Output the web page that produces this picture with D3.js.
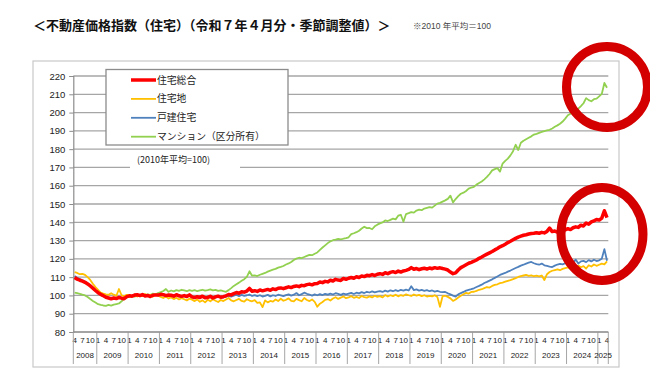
<!DOCTYPE html>
<html lang="ja">
<head>
<meta charset="utf-8">
<script src="https://cdn.jsdelivr.net/npm/d3@7/dist/d3.min.js"></script>
<style>
    body { margin: 0; background: #fff; }
    svg text { font-family: "Liberation Sans", "Noto Sans CJK JP", sans-serif; }
</style>
</head>
<body>
<svg id="chart" width="650" height="380"></svg>
<script>
// category groups (2008 starts in April, 2025 ends in April)
var years = ["2008", "2009", "2010", "2011", "2012", "2013", "2014", "2015", "2016",
    "2017", "2018", "2019", "2020", "2021", "2022", "2023", "2024", "2025"];

// 住宅総合
var sogo = [
    [109.8, 108.9, 108.3, 107.8, 107.2, 106.3, 105.2, 104.0, 102.7],
    [101.5, 100.6, 99.9, 99.0, 98.6, 98.2, 98.6, 98.3, 98.9, 98.5, 98.2, 99.3],
    [99.8, 99.6, 100.2, 100.4, 99.9, 100.5, 99.7, 100.0, 99.4, 100.1, 100.3, 100.2],
    [100.6, 100.4, 99.9, 100.2, 100.1, 99.6, 100.4, 99.8, 99.5, 99.9, 99.4, 100.3],
    [99.2, 98.8, 99.3, 98.9, 99.6, 98.7, 98.9, 99.5, 98.6, 99.2, 99.6, 99.0],
    [99.3, 99.8, 100.5, 100.3, 101.0, 101.6, 101.2, 102.0, 101.8, 102.4, 103.8, 102.3],
    [102.6, 102.2, 103.0, 102.5, 102.9, 103.3, 102.8, 103.6, 103.2, 103.9, 104.1, 103.7],
    [104.2, 104.7, 104.3, 104.9, 105.2, 104.8, 105.5, 105.3, 105.9, 106.2, 105.8, 106.4],
    [106.5, 107.3, 107.0, 107.7, 107.4, 108.3, 107.9, 108.8, 108.4, 108.2, 109.3, 108.8],
    [109.4, 109.8, 109.4, 110.2, 109.8, 110.6, 110.3, 111.0, 110.8, 111.4, 110.9, 111.6],
    [111.9, 111.5, 112.4, 111.9, 112.6, 113.0, 112.5, 113.3, 112.8, 113.4, 113.7, 114.2],
    [115.2, 114.3, 114.7, 114.1, 114.6, 114.9, 114.4, 115.0, 114.6, 115.2, 114.8, 115.1],
    [114.7, 114.4, 113.9, 112.8, 111.9, 112.3, 113.9, 115.2, 116.0, 116.8, 117.6, 118.1],
    [118.7, 119.4, 120.3, 121.0, 121.8, 122.6, 123.3, 124.0, 124.9, 125.7, 126.6, 127.2],
    [128.0, 128.9, 129.6, 130.4, 131.2, 131.9, 132.4, 132.9, 133.2, 133.6, 133.9, 134.0],
    [134.3, 134.0, 134.5, 134.2, 135.0, 136.8, 134.9, 135.2, 134.6, 135.1, 135.6, 135.9],
    [136.5, 136.0, 137.0, 137.5, 137.2, 138.4, 138.0, 139.6, 139.0, 140.2, 140.8, 141.5],
    [141.2, 142.3, 146.3, 142.6]
];

// 住宅地
var takuchi = [
    [112.7, 112.3, 111.6, 111.8, 111.2, 110.0, 108.5, 106.4, 104.6],
    [103.1, 101.6, 101.0, 100.6, 100.3, 101.2, 100.4, 99.8, 103.5, 100.1, 99.5, 100.3],
    [100.2, 99.7, 100.5, 99.4, 100.3, 99.6, 100.8, 99.8, 100.4, 99.3, 100.6, 99.9],
    [99.2, 98.6, 99.4, 98.3, 98.9, 98.0, 98.7, 97.8, 98.5, 97.9, 97.3, 98.2],
    [97.7, 96.9, 97.8, 96.5, 97.3, 96.2, 97.6, 96.8, 97.9, 97.1, 96.4, 97.5],
    [96.9, 97.8, 98.6, 97.3, 96.8, 97.5, 98.1, 97.0, 96.6, 97.9, 97.2, 96.8],
    [97.4, 95.9, 96.2, 93.6, 97.3, 96.2, 97.0, 96.6, 97.8, 96.9, 98.2, 97.1],
    [97.6, 98.4, 97.0, 96.7, 98.1, 97.4, 96.8, 98.6, 97.5, 96.9, 97.8, 96.5],
    [93.8, 95.5, 96.4, 97.6, 98.0, 97.2, 98.3, 99.0, 98.1, 98.8, 99.4, 98.5],
    [98.9, 99.6, 98.7, 99.2, 98.6, 99.7, 99.1, 98.8, 99.5, 98.9, 99.8, 99.2],
    [99.6, 98.9, 100.2, 99.4, 100.1, 99.6, 100.4, 99.5, 100.2, 99.8, 100.6, 100.1],
    [99.7, 100.5, 99.9, 100.3, 99.6, 100.1, 99.4, 99.8, 99.5, 100.1, 99.2, 93.8],
    [99.6, 99.8, 99.2, 98.4, 97.0, 97.8, 98.9, 99.8, 100.6, 101.4, 101.0, 101.9],
    [102.0, 102.5, 103.1, 103.4, 104.0, 104.6, 104.3, 105.2, 105.8, 106.1, 106.7, 107.0],
    [107.5, 108.0, 108.4, 108.9, 109.5, 110.1, 110.6, 110.9, 111.2, 110.7, 111.0, 110.5],
    [110.8, 110.4, 110.9, 108.4, 111.6, 112.8, 113.5, 113.9, 114.3, 113.8, 114.5, 114.9],
    [115.3, 114.8, 115.6, 115.1, 116.3, 115.4, 116.0, 114.7, 116.5, 115.8, 116.9, 116.2],
    [116.8, 117.4, 117.0, 118.6]
];

// 戸建住宅
var kodate = [
    [110.6, 109.7, 109.0, 108.3, 107.6, 106.6, 105.3, 103.9, 102.5],
    [101.3, 100.3, 99.5, 98.9, 98.5, 98.3, 98.8, 98.4, 99.0, 98.6, 98.2, 99.2],
    [99.9, 99.6, 100.3, 100.5, 99.8, 100.6, 99.6, 100.1, 99.5, 100.2, 100.3, 100.1],
    [100.4, 100.1, 99.7, 100.0, 99.8, 99.4, 100.1, 99.5, 99.2, 99.6, 99.1, 99.9],
    [98.9, 98.6, 99.1, 98.7, 99.3, 98.5, 98.8, 99.2, 98.4, 98.9, 99.3, 98.8],
    [98.9, 99.3, 99.8, 99.4, 99.9, 100.4, 99.6, 100.3, 99.8, 100.1, 100.5, 99.7],
    [100.2, 99.6, 100.1, 99.4, 99.8, 100.3, 99.5, 100.1, 99.7, 100.4, 100.0, 99.6],
    [100.2, 100.6, 99.9, 100.4, 101.3, 100.1, 100.7, 101.5, 100.9, 100.5, 99.9, 100.6],
    [100.1, 100.7, 100.2, 100.9, 100.4, 101.0, 100.5, 101.2, 100.8, 100.3, 101.0, 100.6],
    [101.0, 101.4, 100.8, 101.5, 101.1, 101.8, 101.3, 102.0, 101.6, 102.2, 101.7, 102.1],
    [102.4, 101.9, 102.6, 102.1, 102.8, 102.3, 102.9, 102.4, 103.0, 102.6, 103.2, 102.7],
    [105.0, 102.9, 103.3, 102.6, 103.0, 102.5, 102.9, 102.3, 102.7, 102.1, 102.5, 102.0],
    [101.8, 101.9, 101.2, 100.6, 99.9, 99.4, 100.6, 101.3, 101.9, 102.6, 103.0, 103.4],
    [103.9, 104.6, 105.2, 105.9, 106.8, 107.4, 108.1, 108.8, 109.6, 110.4, 111.2, 111.8],
    [112.3, 113.0, 113.6, 114.3, 115.0, 115.6, 116.3, 116.8, 117.4, 117.9, 118.3, 117.6],
    [117.1, 116.8, 117.4, 116.5, 116.2, 115.8, 115.5, 116.3, 116.9, 117.3, 117.0, 117.6],
    [117.9, 118.4, 117.8, 119.6, 117.4, 118.6, 118.9, 118.2, 119.3, 118.6, 119.5, 118.8],
    [119.2, 120.1, 125.3, 119.0]
];

// マンション（区分所有）
var mansion = [
    [101.5, 101.2, 100.9, 100.4, 100.0, 99.1, 98.0, 97.0, 96.1],
    [95.2, 94.8, 94.5, 94.3, 94.8, 94.4, 95.0, 95.3, 95.6, 96.8, 98.2, 99.0],
    [99.2, 99.6, 99.3, 100.0, 99.7, 100.3, 100.1, 100.6, 100.2, 101.0, 100.6, 101.3],
    [101.8, 102.4, 103.5, 102.0, 102.7, 102.2, 102.9, 102.5, 103.1, 102.7, 102.3, 102.9],
    [102.5, 102.9, 102.3, 102.7, 103.1, 102.6, 102.9, 103.3, 102.8, 103.0, 102.5, 102.8],
    [102.3, 102.0, 102.9, 104.0, 105.2, 106.1, 107.0, 108.0, 108.9, 110.2, 113.2, 110.8],
    [111.0, 110.6, 111.3, 111.8, 112.3, 113.0, 113.6, 114.1, 114.5, 115.2, 115.6, 116.1],
    [116.9, 117.5, 118.3, 119.4, 120.1, 120.6, 120.4, 121.0, 121.6, 122.2, 122.0, 122.8],
    [123.5, 124.9, 126.2, 127.4, 128.6, 129.6, 130.2, 130.5, 130.9, 130.6, 131.0, 131.3],
    [131.8, 133.5, 134.0, 134.6, 135.4, 136.6, 137.6, 136.8, 136.9, 136.2, 137.8, 138.7],
    [139.4, 139.9, 141.0, 140.7, 141.3, 142.0, 141.6, 143.6, 144.1, 140.3, 144.5, 145.0],
    [145.6, 145.3, 146.4, 146.9, 146.6, 147.5, 147.9, 148.3, 148.0, 149.1, 150.2, 150.6],
    [151.3, 152.0, 152.8, 154.6, 150.9, 152.7, 154.3, 155.6, 156.2, 157.1, 158.4, 159.0],
    [159.4, 160.6, 161.5, 162.3, 163.5, 164.8, 166.4, 168.4, 169.1, 169.6, 167.7, 172.1],
    [173.6, 174.8, 176.6, 178.9, 182.4, 179.5, 183.5, 184.6, 185.4, 186.2, 187.0, 188.0],
    [188.4, 188.9, 189.4, 189.8, 190.2, 190.6, 191.3, 192.2, 193.0, 193.9, 195.1, 196.7],
    [198.5, 199.4, 200.3, 201.2, 202.1, 203.5, 205.1, 207.9, 206.8, 206.2, 207.3, 207.6],
    [208.9, 210.2, 216.2, 213.6]
];

var yTicks = [80, 90, 100, 110, 120, 130, 140, 150, 160, 170, 180, 190, 200, 210, 220];
var monthLabels = [1, 4, 7, 10];
var seriesNames = ["住宅総合", "住宅地", "戸建住宅", "マンション（区分所有）"];
var seriesColors = ["#ff0000", "#ffc000", "#4f81bd", "#92d050"];
var seriesWidths = [3.5, 1.8, 1.8, 1.8];

var title = "＜不動産価格指数（住宅）（令和７年４月分・季節調整値）＞";
var baseNote = "※2010 年平均＝100";
var innerNote = "(2010年平均=100)";

// build the month categories from the yearly arrays
var cats = [];
years.forEach(function (yr, i) {
    var n = sogo[i].length;
    var m0 = (i === 0) ? 13 - n : 1;
    for (var k = 0; k < n; k++) {
        cats.push({ year: yr, month: m0 + k, idx: cats.length, first: k === 0 });
    }
});

var series = [sogo, takuchi, kodate, mansion].map(function (s, i) {
    return { name: seriesNames[i], color: seriesColors[i], width: seriesWidths[i], values: d3.merge(s) };
});

var svg = d3.select("#chart");

// plot box (note: "top" is reserved on window, so prefixed names)
var plotL = 73.3, plotR = 608.3, plotT = 76, plotB = 332;

var xScale = d3.scaleBand()
    .domain(cats.map(function (d) { return d.idx; }))
    .range([plotL, plotR])
    .padding(0);
var yScale = d3.scaleLinear()
    .domain([80, 220])
    .range([plotB, plotT]);
var bw = xScale.bandwidth();

// title
svg.append("text")
    .attr("x", 33)
    .attr("y", 30)
    .attr("font-size", 13)
    .attr("font-weight", "bold")
    .style("font-family", "'Noto Sans CJK JP'")
    .attr("fill", "#111")
    .text(title);

svg.append("text")
    .attr("x", 413)
    .attr("y", 29)
    .attr("font-size", 8.5)
    .attr("fill", "#444")
    .text(baseNote);

// chart frame
svg.append("rect")
    .attr("x", 33).attr("y", 61)
    .attr("width", 586).attr("height", 306)
    .attr("fill", "none")
    .attr("stroke", "#c8c8c8")
    .attr("stroke-width", 1.2);

// grid lines
svg.append("g")
    .attr("class", "grid")
    .selectAll("line")
    .data(yTicks)
    .enter().append("line")
    .attr("x1", plotL).attr("x2", plotR)
    .attr("y1", function (d) { return yScale(d); })
    .attr("y2", function (d) { return yScale(d); })
    .attr("stroke", "#a6a6a6")
    .attr("stroke-width", 1.3);

// y axis
var yAxis = d3.axisLeft(yScale).tickValues(yTicks).tickSize(4).tickPadding(4);
var gy = svg.append("g")
    .attr("class", "y axis")
    .attr("transform", "translate(" + plotL + ",0)")
    .call(yAxis);
gy.select(".domain").attr("stroke", "#8c8c8c").attr("stroke-width", 1.2);
gy.selectAll(".tick line").attr("stroke", "#8c8c8c");
gy.selectAll(".tick text").attr("font-size", 9.5).attr("fill", "#222")
    .style("font-family", "'Liberation Sans'");

// x axis: month labels
var monthTicks = cats.filter(function (d) { return monthLabels.indexOf(d.month) >= 0; })
    .map(function (d) { return d.idx; });
var xAxis = d3.axisBottom(xScale)
    .tickValues(monthTicks)
    .tickSize(0)
    .tickPadding(5)
    .tickFormat(function (i) { return cats[i].month; });
var gx = svg.append("g")
    .attr("class", "x axis")
    .attr("transform", "translate(0," + plotB + ")")
    .call(xAxis);
gx.select(".domain").remove();
gx.selectAll(".tick text").attr("font-size", 8).attr("fill", "#222")
    .style("font-family", "'Liberation Sans'");

// year separators and labels
var starts = cats.filter(function (d) { return d.first; });
var sepX = starts.map(function (d) { return xScale(d.idx); }).concat([plotR]);
svg.append("g")
    .selectAll("line")
    .data(sepX)
    .enter().append("line")
    .attr("x1", function (d) { return d; })
    .attr("x2", function (d) { return d; })
    .attr("y1", plotB)
    .attr("y2", 364)
    .attr("stroke", "#a6a6a6")
    .attr("stroke-width", 1);

svg.append("g")
    .selectAll("text")
    .data(starts)
    .enter().append("text")
    .attr("x", function (d, i) { return (sepX[i] + sepX[i + 1]) / 2; })
    .attr("y", 357.5)
    .attr("text-anchor", "middle")
    .attr("font-size", 8)
    .attr("fill", "#222")
    .style("font-family", "'Liberation Sans'")
    .text(function (d) { return d.year; });

// x axis line (80)
svg.append("line")
    .attr("x1", plotL).attr("x2", plotR)
    .attr("y1", plotB).attr("y2", plotB)
    .attr("stroke", "#8c8c8c")
    .attr("stroke-width", 1.2);

// series lines (red drawn last so it sits on top)
var lineFunc = d3.line()
    .x(function (d, i) { return xScale(i) + bw / 2; })
    .y(function (d) { return yScale(d); });

var drawOrder = [3, 1, 2, 0];
svg.append("g")
    .attr("class", "lines")
    .selectAll("path")
    .data(drawOrder.map(function (k) { return series[k]; }))
    .enter().append("path")
    .attr("fill", "none")
    .attr("stroke", function (d) { return d.color; })
    .attr("stroke-width", function (d) { return d.width; })
    .attr("stroke-linejoin", "round")
    .attr("d", function (d) { return lineFunc(d.values); });

// legend
var legend = svg.append("g").attr("class", "legend");
legend.append("rect")
    .attr("x", 106).attr("y", 69.5)
    .attr("width", 182).attr("height", 75.5)
    .attr("fill", "#fff")
    .attr("stroke", "#8c8c8c")
    .attr("stroke-width", 1.3);

var rows = legend.selectAll("g.row")
    .data(series)
    .enter().append("g")
    .attr("class", "row")
    .attr("transform", function (d, i) { return "translate(0," + (80 + i * 18.9) + ")"; });
rows.append("line")
    .attr("x1", 131).attr("x2", 156)
    .attr("stroke", function (d) { return d.color; })
    .attr("stroke-width", function (d) { return d.width; });
rows.append("text")
    .attr("x", 157)
    .attr("y", 3.5)
    .attr("font-size", 9.8)
    .attr("fill", "#222")
    .style("font-family", "'Noto Sans CJK JP'")
    .text(function (d) { return d.name; });

// base note inside the chart
svg.append("rect")
    .attr("x", 130).attr("y", 151)
    .attr("width", 110).attr("height", 17)
    .attr("fill", "#fff");
svg.append("text")
    .attr("x", 137)
    .attr("y", 163)
    .attr("font-size", 9)
    .attr("fill", "#222")
    .style("font-family", "'Noto Sans CJK JP'")
    .text(innerNote);

// red highlight circles
var marks = [
    { cx: 607, cy: 87, rx: 40.5, ry: 40.5 },
    { cx: 602, cy: 234, rx: 41, ry: 46.5 }
];
svg.append("g")
    .selectAll("ellipse")
    .data(marks)
    .enter().append("ellipse")
    .attr("cx", function (d) { return d.cx; })
    .attr("cy", function (d) { return d.cy; })
    .attr("rx", function (d) { return d.rx; })
    .attr("ry", function (d) { return d.ry; })
    .attr("fill", "none")
    .attr("stroke", "#d40000")
    .attr("stroke-width", 9);
</script>
</body>
</html>
